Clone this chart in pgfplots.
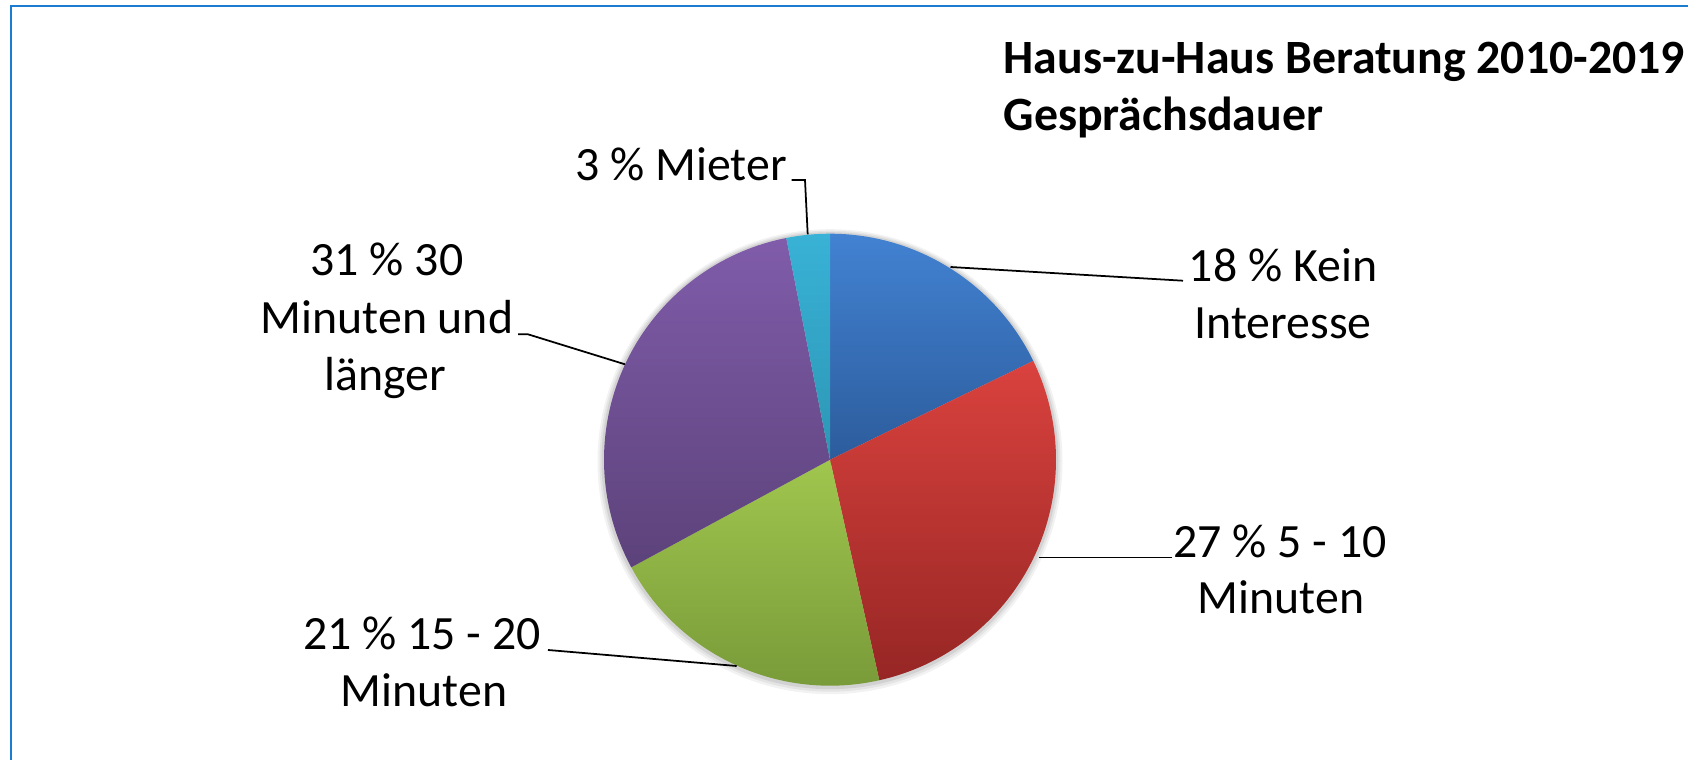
\documentclass[border=0pt]{standalone}
\usepackage{fontspec}
\setmainfont{Carlito}
\usepackage{pgfplots}
\usepackage{pgfplotstable}
\pgfplotsset{compat=1.18}

\definecolor{frameblue}{RGB}{28,125,208}
\definecolor{ct0}{RGB}{66,130,210}   \definecolor{cb0}{RGB}{44,92,156}
\definecolor{ct1}{RGB}{218,66,62}    \definecolor{cb1}{RGB}{150,38,36}
\definecolor{ct2}{RGB}{160,198,78}   \definecolor{cb2}{RGB}{118,152,56}
\definecolor{ct3}{RGB}{128,92,170}   \definecolor{cb3}{RGB}{92,66,122}
\definecolor{ct4}{RGB}{56,178,214}   \definecolor{cb4}{RGB}{45,150,180}

% slice sizes (percent) as drawn in the reference, clockwise from 12 o'clock
\pgfplotstableread{
pct
17.8
28.7
20.6
29.8
3.1
}\piedata

\begin{document}
\begin{tikzpicture}
\path[use as bounding box] (0,0) rectangle (16.88cm,7.6cm);
\clip (0,0) rectangle (16.88cm,7.6cm);
\gdef\cum{0}
\foreach \i in {0,...,4}{%
  \pgfplotstablegetelem{\i}{pct}\of\piedata
  \let\v\pgfplotsretval
  \pgfmathsetmacro\a{90-3.6*\cum}%
  \pgfmathsetmacro\b{90-3.6*(\cum+\v)}%
  \expandafter\xdef\csname sa\i\endcsname{\a}%
  \expandafter\xdef\csname sb\i\endcsname{\b}%
  \pgfmathsetmacro\c{\cum+\v}%
  \xdef\cum{\c}%
}
\begin{axis}[
  width=16.88cm, height=7.6cm, scale only axis, hide axis,
  xmin=0, xmax=1688, ymin=0, ymax=760, clip=false]
% soft shadow
\fill[black, opacity=0.05] (axis cs:830,298.3) circle[radius=2.325cm];
\fill[black, opacity=0.06] (axis cs:830,298.8) circle[radius=2.305cm];
\fill[black, opacity=0.08] (axis cs:830,299.3) circle[radius=2.285cm];
\pgfplotsinvokeforeach{0,...,4}{
  \path[top color=ct#1, bottom color=cb#1]
    (axis cs:830,300.3) -- ++(\csname sa#1\endcsname:2.26cm)
    arc[start angle=\csname sa#1\endcsname, end angle=\csname sb#1\endcsname, radius=2.26cm] -- cycle;
}
% frame
\draw[frameblue, line width=0.75pt] (axis cs:11,-20) -- (axis cs:11,754) -- (axis cs:1720,754);
% leader lines
\draw[black, line width=0.5pt] (axis cs:950.5,493) -- (axis cs:1183,479.3);
\draw[black, line width=0.5pt] (axis cs:1039,202.4) -- (axis cs:1171.7,202.4);
\draw[black, line width=0.5pt] (axis cs:548,110) -- (axis cs:736.7,94);
\draw[black, line width=0.5pt] (axis cs:518,425.7) -- (axis cs:528,425.7) -- (axis cs:625,395.7);
\draw[black, line width=0.5pt] (axis cs:791.7,580) -- (axis cs:805,580) -- (axis cs:807.7,525.7);
% labels
\tikzset{lbl/.style={anchor=base, inner sep=0pt, font=\fontsize{13.6}{16}\selectfont}}
\node[lbl] at (axis cs:1283,478.3) {18 \% Kein};
\node[lbl] at (axis cs:1283,421.7) {Interesse};
\node[lbl] at (axis cs:1280,202.3) {27 \% 5 - 10};
\node[lbl] at (axis cs:1281,146) {Minuten};
\node[lbl] at (axis cs:422,110) {21 \% 15 - 20};
\node[lbl] at (axis cs:424,53) {Minuten};
\node[lbl] at (axis cs:387,485) {31 \% 30};
\node[lbl] at (axis cs:387,426.7) {Minuten und};
\node[lbl] at (axis cs:385,370) {länger};
\node[lbl] at (axis cs:681,580) {3 \% Mieter};
% title
\tikzset{ttl/.style={anchor=base west, inner sep=0pt, font=\bfseries\fontsize{13.6}{16}\selectfont}}
\node[ttl] at (axis cs:1003,687) {Haus-zu-Haus Beratung 2010-2019};
\node[ttl] at (axis cs:1003,630) {Gesprächsdauer};
\end{axis}
\end{tikzpicture}
\end{document}
